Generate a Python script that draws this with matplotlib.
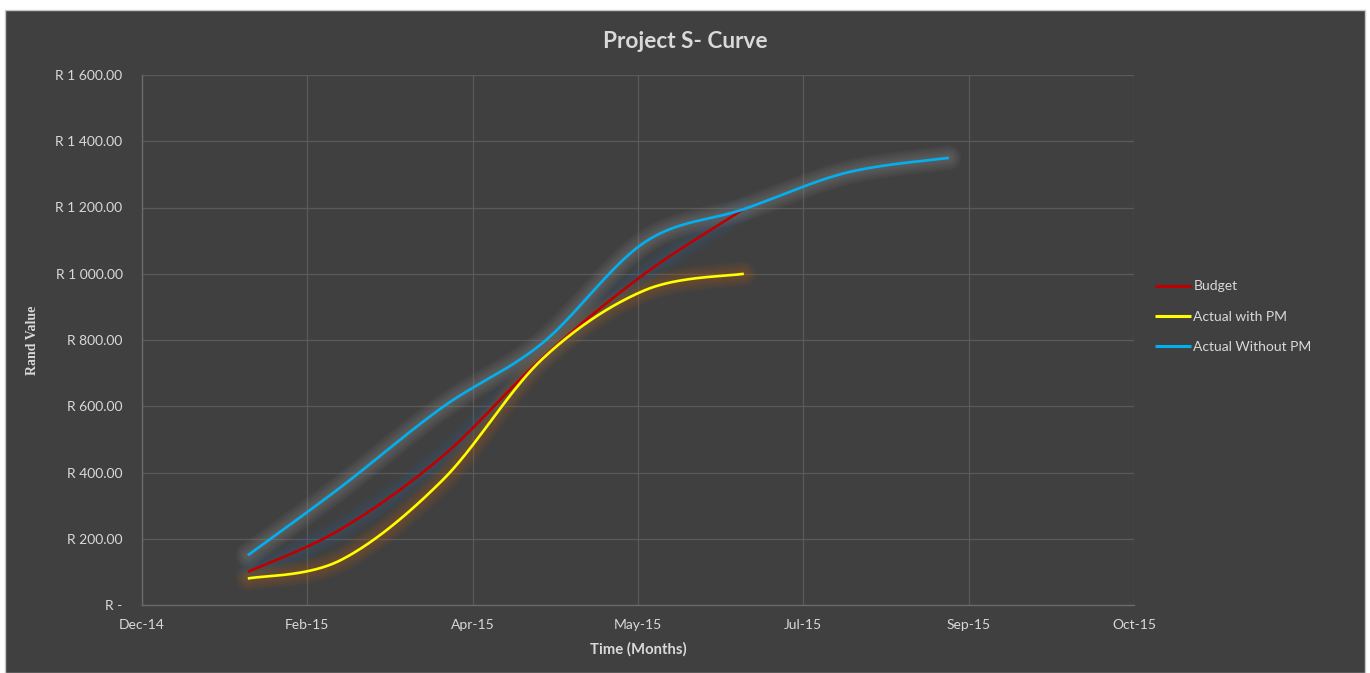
import matplotlib
matplotlib.use('Agg')
import matplotlib.pyplot as plt
import matplotlib.dates as mdates
import matplotlib.ticker as mticker
from matplotlib.patches import Rectangle
import numpy as np
import datetime as dt

# data (month-end points)
dates = ['2015-01-31', '2015-02-28', '2015-03-31', '2015-04-30',
         '2015-05-31', '2015-06-30', '2015-07-31', '2015-08-31']
budget = [100, 228, 450, 745, 1000, 1195]
actual_pm = [80, 135, 378, 742, 950, 1000]
actual_no_pm = [150, 355, 598, 790, 1095, 1195, 1305, 1350]

x_start = dt.date(2014, 12, 30)
x_step = 50  # days between major ticks (Excel date axis)

plt.rcParams['font.family'] = ['Lato', 'DejaVu Sans']

BG = '#404040'
GRID = '#5a5a5a'
TXT = '#d9d9d9'


def smooth(x, y, n=40):
    # Excel-style smoothed line: Catmull-Rom as cubic Bezier pieces
    p = np.column_stack([x, y]).astype(float)
    pp = np.vstack([p[0], p, p[-1]])
    t = np.linspace(0, 1, n)[:, None]
    out = []
    for i in range(len(p) - 1):
        p0, p1, p2, p3 = pp[i], pp[i + 1], pp[i + 2], pp[i + 3]
        c1 = p1 + (p2 - p0) / 6
        c2 = p2 - (p3 - p1) / 6
        seg = (1 - t)**3 * p1 + 3 * (1 - t)**2 * t * c1 + 3 * (1 - t) * t**2 * c2 + t**3 * p2
        out.append(seg if i == 0 else seg[1:])
    s = np.vstack(out)
    return s[:, 0], s[:, 1]


xd = mdates.date2num([dt.date.fromisoformat(d) for d in dates])

fig = plt.figure(figsize=(13.7, 6.73), dpi=100, facecolor='white')
fig.patches.append(Rectangle((5 / 1370, 0), 1360 / 1370, 663 / 673, transform=fig.transFigure,
                             facecolor=BG, edgecolor='#c8c8c8', linewidth=1, zorder=-5))

ax = fig.add_axes([142 / 1370, 68 / 673, 992 / 1370, 530 / 673])
ax.set_facecolor(BG)

series = [
    ('Budget', budget, '#C00000', '#3c5f82'),
    ('Actual with PM', actual_pm, '#FFFF00', '#a8641e'),
    ('Actual Without PM', actual_no_pm, '#00B0F0', '#8c8c8c'),
]

# soft glow under each line
for name, vals, col, glow in series:
    sx, sy = smooth(xd[:len(vals)], vals)
    for lw in np.linspace(18, 3, 9):
        ax.plot(sx, sy, color=glow, lw=lw, alpha=0.055, solid_capstyle='round', zorder=2)

for name, vals, col, glow in series:
    sx, sy = smooth(xd[:len(vals)], vals)
    ax.plot(sx, sy, color=col, lw=1.9, label=name, solid_capstyle='butt', zorder=3)

x0 = mdates.date2num(x_start)
ticks = [x0 + i * x_step for i in range(7)]
ax.set_xlim(ticks[0], ticks[-1])
ax.set_xticks(ticks)
ax.xaxis.set_major_formatter(mdates.DateFormatter('%b-%y'))

ax.set_ylim(0, 1600)
ax.set_yticks(np.arange(0, 1601, 200))


def rand(v, pos):
    if v == 0:
        return 'R -'
    return 'R ' + f'{v:,.2f}'.replace(',', ' ')


ax.yaxis.set_major_formatter(mticker.FuncFormatter(rand))

ax.grid(True, color=GRID, linewidth=0.9)
ax.set_axisbelow(True)
for s in ['top', 'right']:
    ax.spines[s].set_visible(False)
for s in ['left', 'bottom']:
    ax.spines[s].set_color('#6a6a6a')
    ax.spines[s].set_linewidth(1)
ax.tick_params(axis='both', length=0, colors=TXT, labelsize=10)
ax.tick_params(axis='y', pad=14)
ax.tick_params(axis='x', pad=10)

ax.set_xlabel('Time (Months)', color=TXT, fontsize=10.7, fontweight='bold', labelpad=8)
ax.set_ylabel('Rand Value', color=TXT, fontsize=10, fontweight='bold', labelpad=12,
              family=['Liberation Serif', 'DejaVu Serif'])

fig.text(0.5, 1 - 41 / 673, 'Project S- Curve', ha='center', va='center',
         color=TXT, fontsize=16.3, fontweight='bold')

leg = ax.legend(loc='upper left', bbox_to_anchor=(1142 / 1370, 1 - 268 / 673),
                bbox_transform=fig.transFigure, frameon=False, fontsize=10,
                handlelength=2.6, handletextpad=0.2, labelspacing=1.3)
for t in leg.get_texts():
    t.set_color(TXT)
for l in leg.get_lines():
    l.set_linewidth(2.2)

fig.savefig('out.png', dpi=100, facecolor='white')
